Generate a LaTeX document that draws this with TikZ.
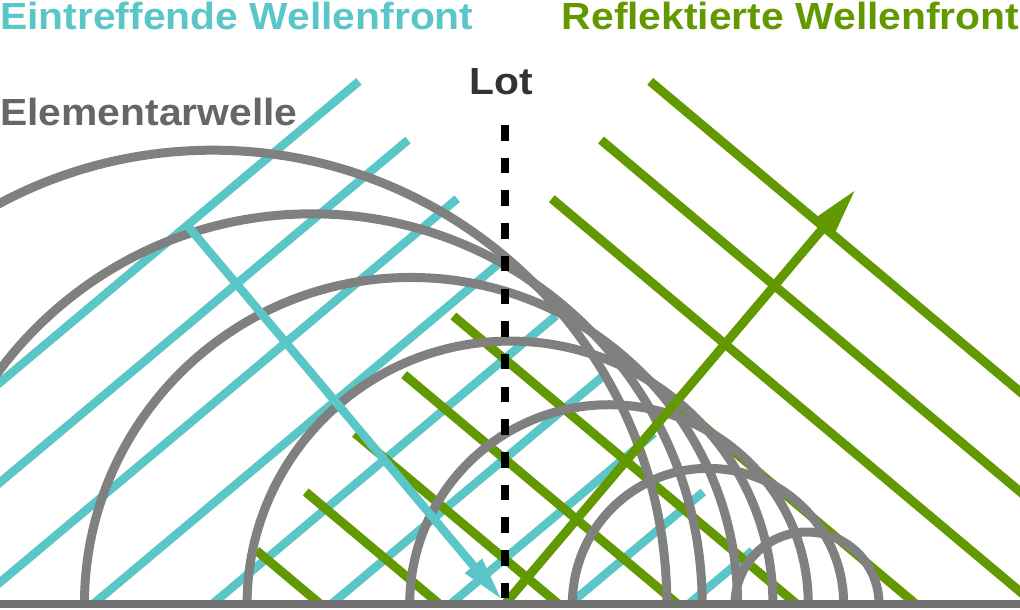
\documentclass[tikz,border=0pt]{standalone}
\usepackage{fontspec}
\setmainfont{Liberation Sans}
\newfontfamily\labfont{Liberation Sans}[FakeStretch=1.08]
\usetikzlibrary{arrows.meta}
\definecolor{cyanc}{RGB}{91,198,200}
\definecolor{greenc}{RGB}{99,153,0}
\definecolor{arcgray}{RGB}{128,128,128}
\definecolor{groundgray}{RGB}{112,112,112}
\definecolor{textgray}{RGB}{102,102,102}
\definecolor{lotgray}{RGB}{51,51,51}
\begin{document}
\begin{tikzpicture}[x=1pt,y=-1pt,
  incfront/.style={draw=cyanc, line width=8.5pt},
  reffront/.style={draw=greenc, line width=9pt},
  elemwave/.style={draw=arcgray, line width=9pt},
  incray/.style={draw=cyanc, line width=8.5pt, -{Triangle[length=46pt,width=20pt]}},
  refray/.style={draw=greenc, line width=9pt, -{Triangle[length=48pt,width=21pt]}},
  lotline/.style={draw=black, line width=8pt, dash pattern=on 15.5pt off 17.2pt},
  groundline/.style={draw=groundgray, line width=8.5pt},
  lbl/.style={inner sep=0pt, font=\labfont\bfseries\fontsize{37.8}{40}\selectfont},
]
\useasboundingbox (0,0) rectangle (1020,610);
\clip (0,0) rectangle (1020,610);
% incident wave fronts
\foreach \k in {0,...,8}
  \draw[incfront] ({-264+119.1*\k},604) -- ({358.8+49.21*\k},{81.4+58.65*\k});
% reflected wave fronts
\foreach \k in {0,...,8}
  \draw[reffront] ({1009-358.8-49.21*\k},{81.4+58.65*\k}) --
    ({1009-358.8-49.21*\k+(604-81.4-58.65*\k)/0.8391},604);
% elementary waves
\foreach \c in {807,708,...,213}
  \draw[elemwave] ({\c-(919-\c)*0.6428},604)
    arc[start angle=180, end angle=360, radius={(919-\c)*0.6428}];
% rays
\coordinate (cstart) at (187.3,225.4);
\coordinate (ctip) at (503,601);
\coordinate (refl) at (505,604);
\coordinate (gtip) at (857,188);
\draw[incray] (cstart) -- (ctip);
\draw[refray] (refl) -- (gtip);
% normal
\coordinate (lottop) at (504.5,125);
\coordinate (lotbot) at (504.5,598.5);
\draw[lotline] (lottop) -- (lotbot);
% ground
\coordinate (gl) at (0,604);
\coordinate (gr) at (1020,604);
\draw[groundline] (gl) -- (gr);
% labels
\node[lbl, text=cyanc, anchor=base west] (inc) at (0,30) {Eintreffende Wellenfront};
\node[lbl, text=greenc, anchor=base east] (ref) at (1019.5,30) {Reflektierte Wellenfront};
\node[lbl, text=textgray, anchor=base west] (elem) at (0,125) {Elementarwelle};
\node[lbl, text=lotgray, anchor=base] (lot) at (501.7,95) {Lot};
\end{tikzpicture}
\end{document}
